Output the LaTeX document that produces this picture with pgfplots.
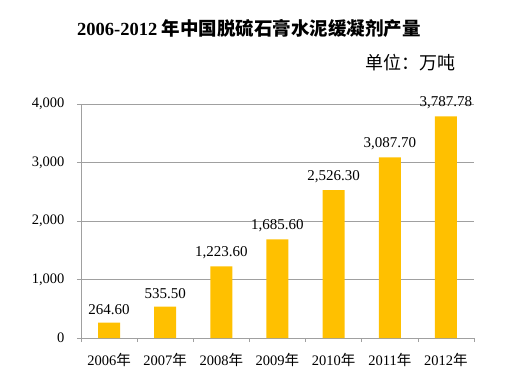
\documentclass[border=0pt]{standalone}
\usepackage{pgfplots}
\pgfplotsset{compat=1.18}
\usetikzlibrary{calc}
\usepackage{fontspec}
\setmainfont{Liberation Serif}
\newfontfamily\cjk{Noto Sans CJK SC}
\definecolor{bargold}{RGB}{255,192,0}
\definecolor{gridgray}{RGB}{160,160,160}
\begin{document}
\begin{tikzpicture}[x=1pt,y=1pt]
\begin{axis}[
  scale only axis, width=393pt, height=234pt,
  xmin=-0.5, xmax=6.5, ymin=0, ymax=4000,
  axis x line*=bottom, axis y line*=left,
  axis line style={gridgray, line width=0.6pt},
  ybar, bar width=22pt,
  xtick={0,...,6},
  xticklabels={2006{\cjk 年},2007{\cjk 年},2008{\cjk 年},2009{\cjk 年},2010{\cjk 年},2011{\cjk 年},2012{\cjk 年}},
  major x tick style={draw=none},
  minor xtick={-0.5,0.5,...,6.5},
  minor x tick style={gridgray, line width=0.6pt},
  minor tick length=4pt,
  xtick align=outside,
  ytick={0,1000,2000,3000,4000},
  ytick align=outside,
  major tick length=4pt,
  y tick style={gridgray, line width=0.6pt},
  ymajorgrids, grid style={gridgray, line width=0.6pt},
  /pgf/number format/assume math mode=true,
  yticklabel style={/pgf/number format/1000 sep={,}, /pgf/number format/fixed, font=\fontsize{14.5}{16}\selectfont, xshift=-9pt},
  xticklabel style={font=\fontsize{14.5}{16}\selectfont, yshift=-8pt},
  scaled y ticks=false,
  nodes near coords,
  nodes near coords style={font=\fontsize{15}{17}\selectfont, yshift=4pt,
    /pgf/number format/fixed, /pgf/number format/fixed zerofill, /pgf/number format/precision=2, /pgf/number format/1000 sep={,}},
  clip=false,
]
\addplot[fill=bargold, draw=none] coordinates {(0,264.60) (1,535.50) (2,1223.60) (3,1685.60) (4,2526.30) (5,3087.70) (6,3787.78)};
\coordinate (O) at (rel axis cs:0,0);
\end{axis}
\pgfresetboundingbox
\path ($(O)+(-81,-37)$) rectangle ($(O)+(427,338)$);
\node[font=\fontsize{18.5}{21}\selectfont\bfseries] at ($(O)+(168,310)$) {2006-2012 {\cjk 年中国脱硫石膏水泥缓凝剂产量}};
\node[font=\fontsize{18}{20}\selectfont] at ($(O)+(329,275)$) {\cjk 单位：万吨};
\end{tikzpicture}
\end{document}
